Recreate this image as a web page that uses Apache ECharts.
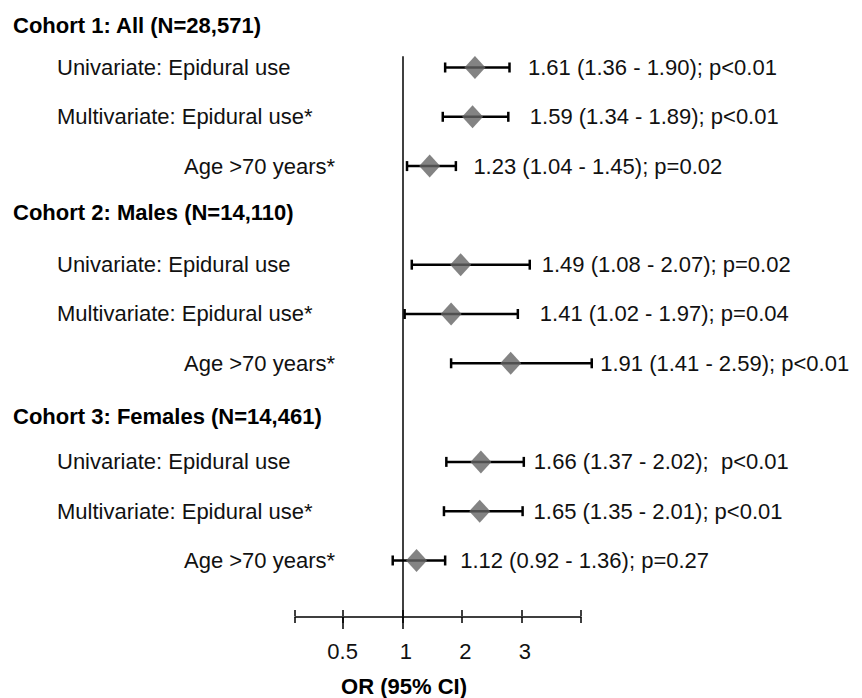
<!DOCTYPE html>
<html>
<head>
<meta charset="utf-8">
<script src="https://cdn.jsdelivr.net/npm/echarts@6/dist/echarts.min.js"></script>
<style>
html,body{margin:0;padding:0;background:#ffffff;}
#chart{width:862px;height:698px;}
</style>
</head>
<body>
<div id="chart"></div>
<script>
// ---------------- DATA ----------------
const cohortTitles = ['Cohort 1: All (N=28,571)', 'Cohort 2: Males (N=14,110)', 'Cohort 3: Females (N=14,461)'];
const rowNames = [
  'Univariate: Epidural use', 'Multivariate: Epidural use*', 'Age >70 years*',
  'Univariate: Epidural use', 'Multivariate: Epidural use*', 'Age >70 years*',
  'Univariate: Epidural use', 'Multivariate: Epidural use*', 'Age >70 years*'
];
const orEst  = [1.61, 1.59, 1.23, 1.49, 1.41, 1.91, 1.66, 1.65, 1.12];
const ciLow  = [1.36, 1.34, 1.04, 1.08, 1.02, 1.41, 1.37, 1.35, 0.92];
const ciHigh = [1.90, 1.89, 1.45, 2.07, 1.97, 2.59, 2.02, 2.01, 1.36];
const pText  = ['p<0.01', 'p<0.01', 'p=0.02', 'p=0.02', 'p=0.04', 'p<0.01', ' p<0.01', 'p<0.01', 'p=0.27'];
const xTickValues  = [0.1, 0.5, 1, 1.5, 2, 2.5];
const xLongTickValues = [0.5];
const xLabelValues = [0.5, 1, 1.5, 2];
const xLabelTexts  = ['0.5', '1', '2', '3'];
const xTitle = 'OR (95% CI)';
const refValue = 1;

// ---------------- LAYOUT / STYLE ----------------
const FONT = "'Liberation Sans', Arial, Helvetica, sans-serif";
const FS = 22;
const labelGap = [18.5, 21.5, 17.5, 12, 22, 8.5, 10, 11, 15];
const headerShift = [[14, 0, 0, 0], [0, 0, 5, 0], [8, 0, 0, 0]];
const tickLabelStyle = ['n', 's', 's', 's'];
const refTop = 0.77;
const yMax = 12.39;

// build row structure (index = vertical slot)
const slots = [];
const dataSlot = [];
cohortTitles.forEach((t, c) => {
  slots.push({ text: t, style: 'h' + c });
  for (let k = 0; k < 3; k++) {
    dataSlot.push(slots.length);
    slots.push({ text: rowNames[c * 3 + k], style: k === 2 ? 'a' : 'r' });
  }
});

const valueText = orEst.map((v, i) =>
  v.toFixed(2) + ' (' + ciLow[i].toFixed(2) + ' - ' + ciHigh[i].toFixed(2) + '); ' + pText[i]);

const ciData = orEst.map((v, i) => [ciLow[i], ciHigh[i], dataSlot[i], v, i]);
const estData = orEst.map((v, i) => [v, dataSlot[i]]);

const rich = {
  r: { fontFamily: FONT, fontSize: FS, color: '#111', padding: [0, 0, 0, 44] },
  a: { fontFamily: FONT, fontSize: FS, color: '#111', padding: [0, 0, 0, 171] }
};
headerShift.forEach((p, c) => {
  rich['h' + c] = { fontFamily: FONT, fontSize: FS, fontWeight: 'bold', color: '#000', padding: p };
});

const chart = echarts.init(document.getElementById('chart'), null, { renderer: 'svg' });

const hiddenX = (g, extra) => Object.assign({
  gridIndex: g, type: 'value', min: 0.1, max: 2.5,
  axisLine: { show: false }, axisLabel: { show: false }, splitLine: { show: false }
}, extra);

const option = {
  backgroundColor: '#ffffff',
  animation: false,
  title: {
    text: xTitle,
    left: 404,
    top: 675,
    textAlign: 'center',
    padding: 0,
    textStyle: { fontFamily: FONT, fontSize: FS, fontWeight: 'bold', color: '#000' }
  },
  grid: [
    { left: 295, right: 281, top: 18.2, bottom: 69 },
    { left: 295, right: 281, top: 616, bottom: 81 },
    { left: 295, right: 281, top: 616, bottom: 81 }
  ],
  xAxis: [
    { gridIndex: 0, type: 'value', min: 0.1, max: 2.5, show: false },
    {
      gridIndex: 1, type: 'value', position: 'bottom', min: 0.1, max: 2.5,
      axisLine: { show: true, lineStyle: { color: '#000', width: 1.5 } },
      axisTick: { show: true, customValues: xTickValues, length: 6, lineStyle: { color: '#000', width: 1.5 } },
      axisLabel: {
        show: true, customValues: xLabelValues, margin: 23,
        formatter: (v) => {
          const k = xLabelValues.findIndex(x => Math.abs(x - v) < 1e-9);
          return k >= 0 ? '{' + tickLabelStyle[k] + '|' + xLabelTexts[k] + '}' : '';
        },
        rich: {
          n: { fontFamily: FONT, fontSize: FS, color: '#111' },
          s: { fontFamily: FONT, fontSize: FS, color: '#111', padding: [0, 0, 0, 7] }
        }
      },
      splitLine: { show: false }
    },
    hiddenX(1, {
      position: 'top',
      axisTick: { show: true, customValues: xTickValues, length: 6, lineStyle: { color: '#000', width: 1.5 } }
    }),
    hiddenX(2, {
      position: 'bottom',
      axisTick: { show: true, customValues: xLongTickValues, length: 12, lineStyle: { color: '#000', width: 1.5 } }
    })
  ],
  yAxis: [
    {
      gridIndex: 0, type: 'value', inverse: true, min: 0, max: yMax, interval: 1,
      axisLine: { show: false }, axisTick: { show: false }, splitLine: { show: false },
      axisLabel: {
        show: true, align: 'left', margin: 282,
        formatter: (v) => { const s = slots[Math.round(v)]; return (s && Math.abs(v - Math.round(v)) < 1e-6) ? '{' + s.style + '|' + s.text + '}' : ''; },
        rich: rich
      }
    },
    { gridIndex: 1, type: 'value', show: false, min: 0, max: 1 },
    { gridIndex: 2, type: 'value', show: false, min: 0, max: 1 }
  ],
  series: [
    {
      type: 'custom',
      xAxisIndex: 0, yAxisIndex: 0,
      data: ciData,
      encode: { x: [0, 1], y: 2 },
      z: 2,
      renderItem: (params, api) => {
        const lo = api.coord([api.value(0), api.value(2)]);
        const hi = api.coord([api.value(1), api.value(2)]);
        const i = api.value(4);
        const capH = 5;
        const ls = { stroke: '#000', lineWidth: 2.5 };
        return {
          type: 'group',
          children: [
            { type: 'line', shape: { x1: lo[0], y1: lo[1], x2: hi[0], y2: hi[1] }, style: ls },
            { type: 'line', shape: { x1: lo[0], y1: lo[1] - capH, x2: lo[0], y2: lo[1] + capH }, style: ls },
            { type: 'line', shape: { x1: hi[0], y1: hi[1] - capH, x2: hi[0], y2: hi[1] + capH }, style: ls },
            {
              type: 'text', x: hi[0] + labelGap[i], y: hi[1],
              style: {
                text: valueText[i], fill: '#111',
                font: FS + 'px ' + FONT,
                align: 'left', verticalAlign: 'middle',
                textAlign: 'left', textVerticalAlign: 'middle'
              }
            }
          ]
        };
      }
    },
    {
      type: 'scatter',
      xAxisIndex: 0, yAxisIndex: 0,
      data: estData,
      symbol: 'diamond',
      symbolSize: [21, 23],
      itemStyle: { color: '#646464' },
      z: 3,
      silent: true,
      markLine: {
        silent: true,
        symbol: ['none', 'none'],
        label: { show: false },
        lineStyle: { color: '#000', width: 1.5, type: 'solid' },
        data: [[{ coord: [refValue, refTop] }, { coord: [refValue, yMax] }]]
      }
    }
  ]
};

chart.setOption(option);
</script>
</body>
</html>
